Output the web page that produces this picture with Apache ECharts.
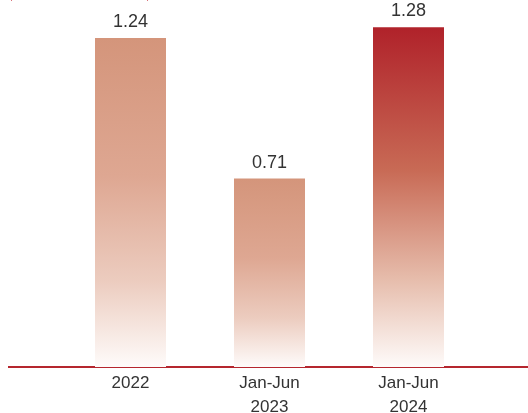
<!DOCTYPE html>
<html>
<head>
<meta charset="utf-8">
<script src="https://cdn.jsdelivr.net/npm/echarts@6/dist/echarts.min.js"></script>
<style>
  html, body { margin: 0; padding: 0; background: #fff; }
  #main { width: 528px; height: 413px; }
</style>
</head>
<body>
<div id="main"></div>
<script>
// 数据
var categories = ['2022', 'Jan-Jun\n2023', 'Jan-Jun\n2024'];
var values = [1.24, 0.71, 1.28];

// 渐变色
function fade(top, mid, low) {
  return new echarts.graphic.LinearGradient(0, 0, 0, 1, [
    { offset: 0, color: top },
    { offset: 0.42, color: mid },
    { offset: 0.74, color: low },
    { offset: 1, color: '#fefbfa' }
  ]);
}
var lightBar = fade('#d4957b', '#dea792', '#ecccbf');
var redBar = fade('#b0222a', '#c86a55', '#e6bcab');

(function() {
  var myChart = echarts.init(document.getElementById('main'));
  var option = {
    animation: false,
    // 不让标签挤压绘图区
    grid: { left: 61, width: 417, top: 0, bottom: 46, outerBoundsMode: 'none', containLabel: false },
    xAxis: {
      type: 'category',
      data: categories,
      axisLine: { show: false },
      axisTick: { show: false },
      axisLabel: {
        color: '#333',
        fontSize: 17,
        lineHeight: 24,
        margin: 4,
        fontFamily: 'Liberation Sans, Arial, sans-serif'
      }
    },
    yAxis: {
      type: 'value',
      min: 0,
      max: 1.383,
      show: false,
      splitLine: { show: false }
    },
    series: [{
      type: 'bar',
      barWidth: 71,
      data: values.map(function(v, i) {
        return { value: v, itemStyle: { color: i === 2 ? redBar : lightBar } };
      }),
      label: {
        show: true,
        position: 'top',
        distance: 7,
        color: '#333',
        fontSize: 18,
        fontFamily: 'Liberation Sans, Arial, sans-serif',
        formatter: function(p) { return p.value.toFixed(2); }
      }
    }],
    graphic: [
      // 底部红色横线
      { type: 'rect', shape: { x: 8, y: 366, width: 520, height: 2 }, style: { fill: '#b5262e' } },
      // 顶部被裁掉的括号残留
      { type: 'rect', shape: { x: 11, y: 0, width: 1, height: 1 }, style: { fill: '#d9737a' } },
      { type: 'rect', shape: { x: 147, y: 0, width: 1, height: 1 }, style: { fill: '#d9737a' } }
    ]
  };
  myChart.setOption(option);
})();
</script>
</body>
</html>
